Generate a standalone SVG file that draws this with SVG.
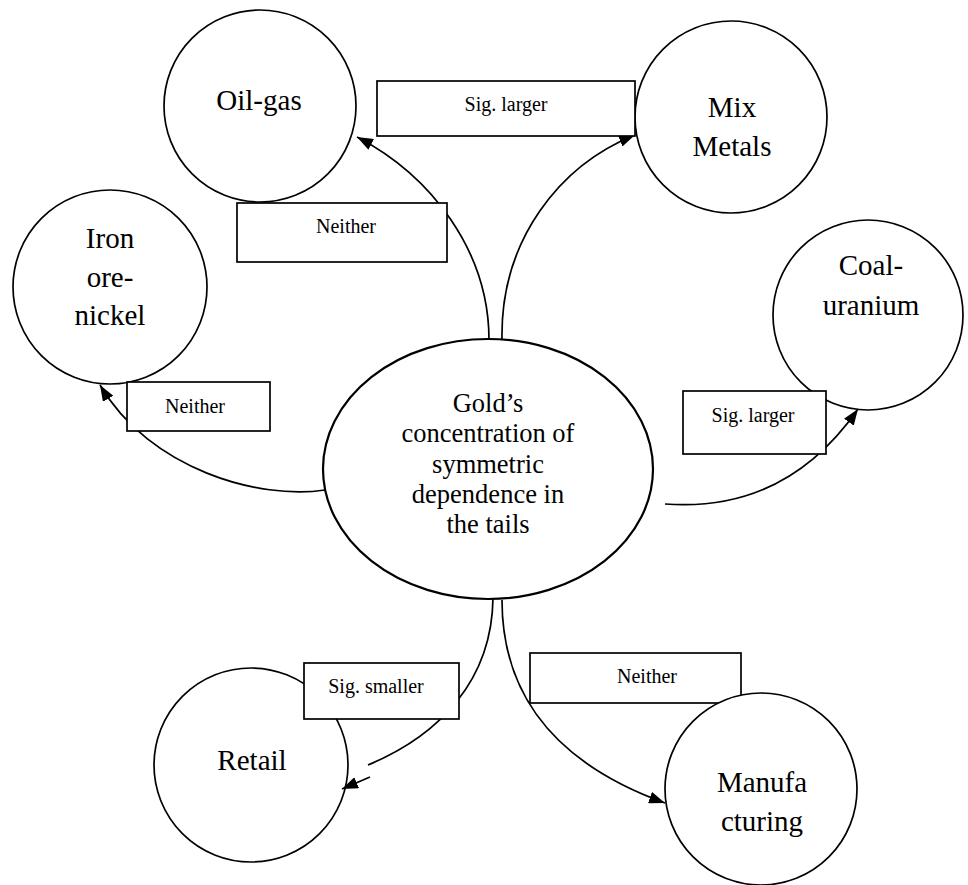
<svg xmlns="http://www.w3.org/2000/svg" width="968" height="885" viewBox="0 0 968 885">
  <defs>
    <marker id="arrow" markerWidth="16" markerHeight="12" refX="16" refY="6" orient="auto" markerUnits="userSpaceOnUse">
      <path d="M0,0 L16,6 L0,12 z" fill="#000"/>
    </marker>
    <style>
      .node { fill: #fff; stroke: #000; stroke-width: 1.7; }
      .oval { fill: #fff; stroke: #000; stroke-width: 2.2; }
      .box { fill: #fff; stroke: #000; stroke-width: 1.7; }
      .edge { fill: none; stroke: #000; stroke-width: 1.7; }
      text { fill: #000; text-anchor: middle; }
      .big { font-size: 29px; }
      .mid { font-size: 26.5px; }
      .lbl { font-size: 20px; }
    </style>
  </defs>
  <rect width="968" height="885" fill="#fff"/>

  <g font-family="'Liberation Serif', 'Times New Roman', Times, serif">
  <!-- circles that sit beneath their label boxes -->
  <g id="retail">
    <circle class="node" cx="251" cy="765" r="97"/>
    <text class="big" x="252" y="770">Retail</text>
  </g>
  <g id="coal-uranium">
    <circle class="node" cx="868" cy="315" r="95"/>
    <text class="big" x="871" y="275">Coal-</text>
    <text class="big" x="871" y="315">uranium</text>
  </g>
  <g id="oil-gas">
    <circle class="node" cx="260" cy="106" r="96"/>
    <text class="big" x="259" y="110">Oil-gas</text>
  </g>
  <g id="mix-metals">
    <circle class="node" cx="731" cy="117" r="96"/>
    <text class="big" x="732" y="117">Mix</text>
    <text class="big" x="732" y="156">Metals</text>
  </g>
  <g id="iron-ore-nickel">
    <circle class="node" cx="110" cy="287" r="97"/>
    <text class="big" x="110" y="248">Iron</text>
    <text class="big" x="110" y="287">ore-</text>
    <text class="big" x="110" y="325">nickel</text>
  </g>

  <!-- connectors from the central node -->
  <g id="connectors">
    <path class="edge" d="M489,340 C489,250 430,175 357,137" marker-end="url(#arrow)"/>
    <path class="edge" d="M502,340 C500,240 560,165 635,135" marker-end="url(#arrow)"/>
    <path class="edge" d="M325,490 C260,500 150,470 100,385" marker-end="url(#arrow)"/>
    <path class="edge" d="M665,504 C745,510 810,478 858,409" marker-end="url(#arrow)"/>
    <path class="edge" d="M493,598 C492,680 440,735 368,765"/>
    <path class="edge" d="M370,777 L342,789" marker-end="url(#arrow)"/>
    <path class="edge" d="M502,600 C502,700 560,765 665,803" marker-end="url(#arrow)"/>
  </g>

  <!-- edge label boxes -->
  <g id="label-oil-mix">
    <rect class="box" x="377" y="81" width="258" height="55"/>
    <text class="lbl" x="506" y="111">Sig. larger</text>
  </g>
  <g id="label-oil">
    <rect class="box" x="237" y="203" width="210" height="59"/>
    <text class="lbl" x="346" y="233">Neither</text>
  </g>
  <g id="label-iron">
    <rect class="box" x="127" y="382" width="143" height="49"/>
    <text class="lbl" x="195" y="413">Neither</text>
  </g>
  <g id="label-coal">
    <rect class="box" x="683" y="391" width="143" height="63"/>
    <text class="lbl" x="753" y="422">Sig. larger</text>
  </g>
  <g id="label-retail">
    <rect class="box" x="304" y="663" width="155" height="56"/>
    <text class="lbl" x="376" y="693">Sig. smaller</text>
  </g>
  <g id="label-manufacturing">
    <rect class="box" x="530" y="653" width="211" height="50"/>
    <text class="lbl" x="647" y="683">Neither</text>
  </g>

  <!-- central node -->
  <g id="gold">
    <ellipse class="oval" cx="488" cy="469" rx="165" ry="130"/>
    <text class="mid" x="488" y="412">Gold’s</text>
    <text class="mid" x="488" y="442">concentration of</text>
    <text class="mid" x="488" y="473">symmetric</text>
    <text class="mid" x="488" y="503">dependence in</text>
    <text class="mid" x="488" y="533">the tails</text>
  </g>

  <!-- circle drawn over its label box -->
  <g id="manufacturing">
    <circle class="node" cx="761" cy="789" r="96"/>
    <text class="big" x="762" y="792">Manufa</text>
    <text class="big" x="762" y="831">cturing</text>
  </g>
  </g>
</svg>
